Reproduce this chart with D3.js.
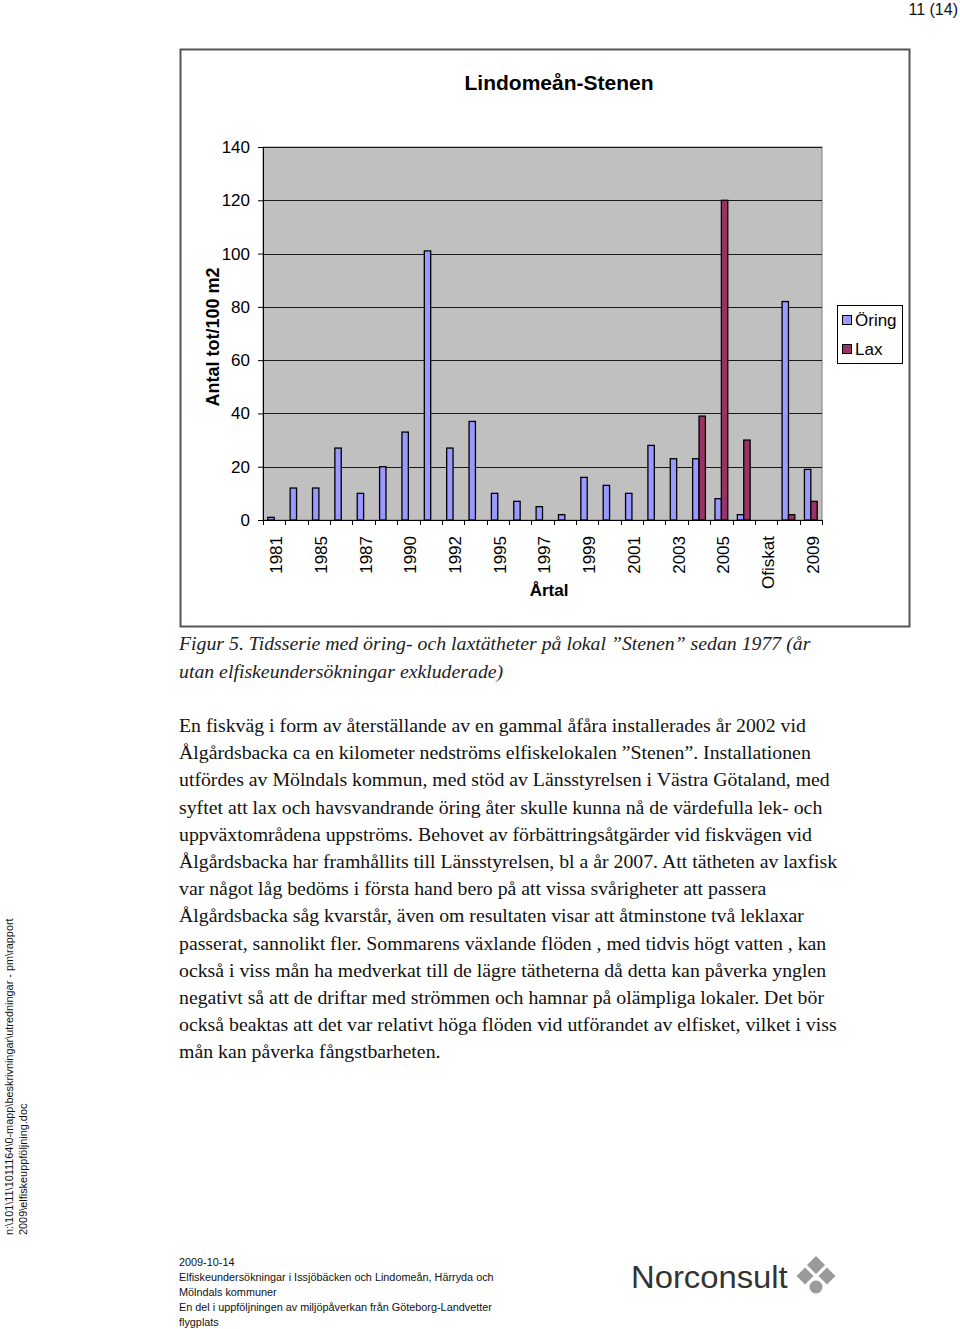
<!DOCTYPE html>
<html><head><meta charset="utf-8">
<script src="https://cdn.jsdelivr.net/npm/d3@7"></script>
<style>
html,body{margin:0;padding:0;background:#fff;}
svg{display:block;}
</style></head>
<body>
<svg id="c" width="960" height="1329"></svg>
<script>
// ---- data ----
const categories = ["1981","1984","1985","1986","1987","1989","1990","1991","1992","1994","1995","1996","1997","1998","1999","2000","2001","2002","2003","2004","2005","2006","Ofiskat","2008","2009"];
const tickLabels = ["1981","1985","1987","1990","1992","1995","1997","1999","2001","2003","2005","Ofiskat","2009"];
const oringValues = [1,12,12,27,10,20,33,101,27,37,10,7,5,2,16,13,10,28,23,23,8,2,null,82,19];
const laxValues   = [0,0,0,0,0,0,0,0,0,0,0,0,0,0,0,0,0,0,0,39,120,30,null,2,7];
const seriesNames = ["Öring","Lax"];
const yTicks = [0,20,40,60,80,100,120,140];
const chartTitle = "Lindomeån-Stenen";
const yTitle = "Antal tot/100 m2";
const xTitle = "Årtal";
const captionLines = ["Figur 5. Tidsserie med öring- och laxtätheter på lokal ”Stenen” sedan 1977 (år","utan elfiskeundersökningar exkluderade)"];
const bodyLines = [
"En fiskväg i form av återställande av en gammal åfåra installerades år 2002 vid",
"Ålgårdsbacka ca en kilometer nedströms elfiskelokalen ”Stenen”. Installationen",
"utfördes av Mölndals kommun, med stöd av Länsstyrelsen i Västra Götaland, med",
"syftet att lax och havsvandrande öring åter skulle kunna nå de värdefulla lek- och",
"uppväxtområdena uppströms. Behovet av förbättringsåtgärder vid fiskvägen vid",
"Ålgårdsbacka har framhållits till Länsstyrelsen, bl a år 2007. Att tätheten av laxfisk",
"var något låg bedöms i första hand bero på att vissa svårigheter att passera",
"Ålgårdsbacka såg kvarstår, även om resultaten visar att åtminstone två leklaxar",
"passerat, sannolikt fler. Sommarens växlande flöden , med tidvis högt vatten , kan",
"också i viss mån ha medverkat till de lägre tätheterna då detta kan påverka ynglen",
"negativt så att de driftar med strömmen och hamnar på olämpliga lokaler. Det bör",
"också beaktas att det var relativt höga flöden vid utförandet av elfisket, vilket i viss",
"mån kan påverka fångstbarheten."
];
const footerLines = ["2009-10-14","Elfiskeundersökningar i Issjöbäcken och Lindomeån, Härryda och","Mölndals kommuner","En del i uppföljningen av miljöpåverkan från Göteborg-Landvetter","flygplats"];
const sideLines = ["n:\\101\\11\\1011164\\0-mapp\\beskrivningar\\utredningar - pm\\rapport","2009\\elfiskeuppföljning.doc"];
const pageNumber = "11 (14)";
const logoText = "Norconsult";

// ---- drawing ----
const svg = d3.select("#c");
const sans = "'Liberation Sans', Arial, sans-serif";
const serif = "'Liberation Serif', 'Times New Roman', serif";
const colors = {"Öring":"#9999ff","Lax":"#993366"};

svg.append("rect").attr("width",960).attr("height",1329).attr("fill","#fff");

// page number
svg.append("text").attr("x",958).attr("y",15).attr("text-anchor","end")
  .attr("font-family",sans).attr("font-size",16).attr("fill","#111").text(pageNumber);

// chart frame
svg.append("rect").attr("x",180.5).attr("y",49.5).attr("width",729).attr("height",577)
  .attr("fill","#fff").attr("stroke","#555").attr("stroke-width",2);

const plot = {l:263,r:822,t:147,b:520};
const x = d3.scaleBand().domain(categories).range([plot.l,plot.r]).paddingInner(0).paddingOuter(0);
const xs = d3.scaleBand().domain(seriesNames).range([0,x.bandwidth()]).paddingInner(0).paddingOuter(0.75);
const y = d3.scaleLinear().domain([0,140]).range([plot.b,plot.t]);

// title
svg.append("text").attr("x",559).attr("y",90).attr("text-anchor","middle")
  .attr("font-family",sans).attr("font-weight","bold").attr("font-size",21).attr("fill","#000").text(chartTitle);

// plot area
svg.append("rect").attr("x",plot.l).attr("y",plot.t).attr("width",plot.r-plot.l).attr("height",plot.b-plot.t)
  .attr("fill","#c0c0c0").attr("stroke","#808080").attr("stroke-width",1);

// gridlines
svg.append("g").selectAll("line").data(yTicks.filter(d=>d>0)).join("line")
  .attr("x1",plot.l).attr("x2",plot.r).attr("y1",d=>Math.round(y(d))+0.5).attr("y2",d=>Math.round(y(d))+0.5)
  .attr("stroke","#1a1a1a").attr("stroke-width",1);

// bars
const data = categories.map((c,i)=>({cat:c, vals:[{s:"Öring",v:oringValues[i]},{s:"Lax",v:laxValues[i]}]}));
const g = svg.append("g");
data.forEach(d=>{
  d.vals.forEach(e=>{
    if(e.v==null || e.v<=0) return;
    g.append("rect")
      .attr("x",x(d.cat)+xs(e.s)).attr("width",xs.bandwidth())
      .attr("y",y(e.v)).attr("height",y(0)-y(e.v))
      .attr("fill",colors[e.s]).attr("stroke","#000").attr("stroke-width",1.3);
  });
});

// y axis
const yAxis = d3.axisLeft(y).tickValues(yTicks).tickSize(5).tickPadding(8).tickFormat(d3.format("d"));
const ya = svg.append("g").attr("transform",`translate(${plot.l},0)`).call(yAxis);
ya.select(".domain").attr("stroke","#000");
ya.selectAll(".tick line").attr("stroke","#000");
ya.selectAll("text").attr("font-family",sans).attr("font-size",17).attr("fill","#000");

// x axis
const xAxis = d3.axisBottom(x).tickSize(0).tickFormat(d=>tickLabels.includes(d)?d:"");
const xa = svg.append("g").attr("transform",`translate(0,${plot.b})`).call(xAxis);
xa.select(".domain").attr("stroke","#000");
xa.selectAll("text").attr("font-family",sans).attr("font-size",17).attr("fill","#000")
  .attr("transform","rotate(-90)").attr("text-anchor","end").attr("dy","0.35em").attr("dx","0").attr("x",-16).attr("y",2);
// boundary ticks
const bounds = categories.map(c=>x(c)).concat([plot.r]);
svg.append("g").selectAll("line").data(bounds).join("line")
  .attr("x1",d=>Math.round(d)+0.5).attr("x2",d=>Math.round(d)+0.5).attr("y1",plot.b).attr("y2",plot.b+5)
  .attr("stroke","#000");

// axis titles
svg.append("text").attr("transform","translate(219,337) rotate(-90)").attr("text-anchor","middle")
  .attr("font-family",sans).attr("font-weight","bold").attr("font-size",18).attr("fill","#000").text(yTitle);
svg.append("text").attr("x",549).attr("y",596).attr("text-anchor","middle")
  .attr("font-family",sans).attr("font-weight","bold").attr("font-size",17).attr("fill","#000").text(xTitle);

// legend
svg.append("rect").attr("x",837.5).attr("y",305.5).attr("width",65).attr("height",58)
  .attr("fill","#fff").attr("stroke","#000").attr("stroke-width",1);
seriesNames.forEach((s,i)=>{
  const ly = 320 + i*29;
  svg.append("rect").attr("x",842.5).attr("y",ly-4.5).attr("width",9).attr("height",9)
    .attr("fill",colors[s]).attr("stroke","#000").attr("stroke-width",1);
  svg.append("text").attr("x",855).attr("y",ly).attr("dy","0.35em")
    .attr("font-family",sans).attr("font-size",17).attr("fill","#000").text(s);
});

// caption
captionLines.forEach((t,i)=>{
  svg.append("text").attr("transform",`translate(179,${650+i*28}) scale(1.1,1)`).attr("font-family",serif).attr("font-style","italic")
    .attr("font-size",18).attr("fill","#222").text(t);
});

// body text
bodyLines.forEach((t,i)=>{
  svg.append("text").attr("transform",`translate(179,${732+i*27.2}) scale(1.1,1)`).attr("font-family",serif)
    .attr("font-size",18).attr("fill","#111").text(t);
});

// side text
sideLines.forEach((t,i)=>{
  svg.append("text").attr("transform",`translate(${13+i*14},1235) rotate(-90)`)
    .attr("font-family",sans).attr("font-size",10.9).attr("fill","#111").text(t);
});

// footer
footerLines.forEach((t,i)=>{
  svg.append("text").attr("x",179).attr("y",1266+i*15).attr("font-family",sans)
    .attr("font-size",10.85).attr("fill","#111").text(t);
});

// logo
svg.append("text").attr("transform","translate(631,1288) scale(1.025,1)").attr("font-family",sans)
  .attr("font-size",32).attr("fill","#333").text(logoText);
const lg = svg.append("g").attr("fill","#9a9a9a");
const dia = (cx,cy,r)=>lg.append("path").attr("d",`M${cx},${cy-r}L${cx+r},${cy}L${cx},${cy+r}L${cx-r},${cy}Z`);
dia(816,1265,9); dia(805,1276,8.5); dia(827,1276,8.5);
lg.append("circle").attr("cx",816).attr("cy",1287).attr("r",6.5);
</script>
</body></html>
